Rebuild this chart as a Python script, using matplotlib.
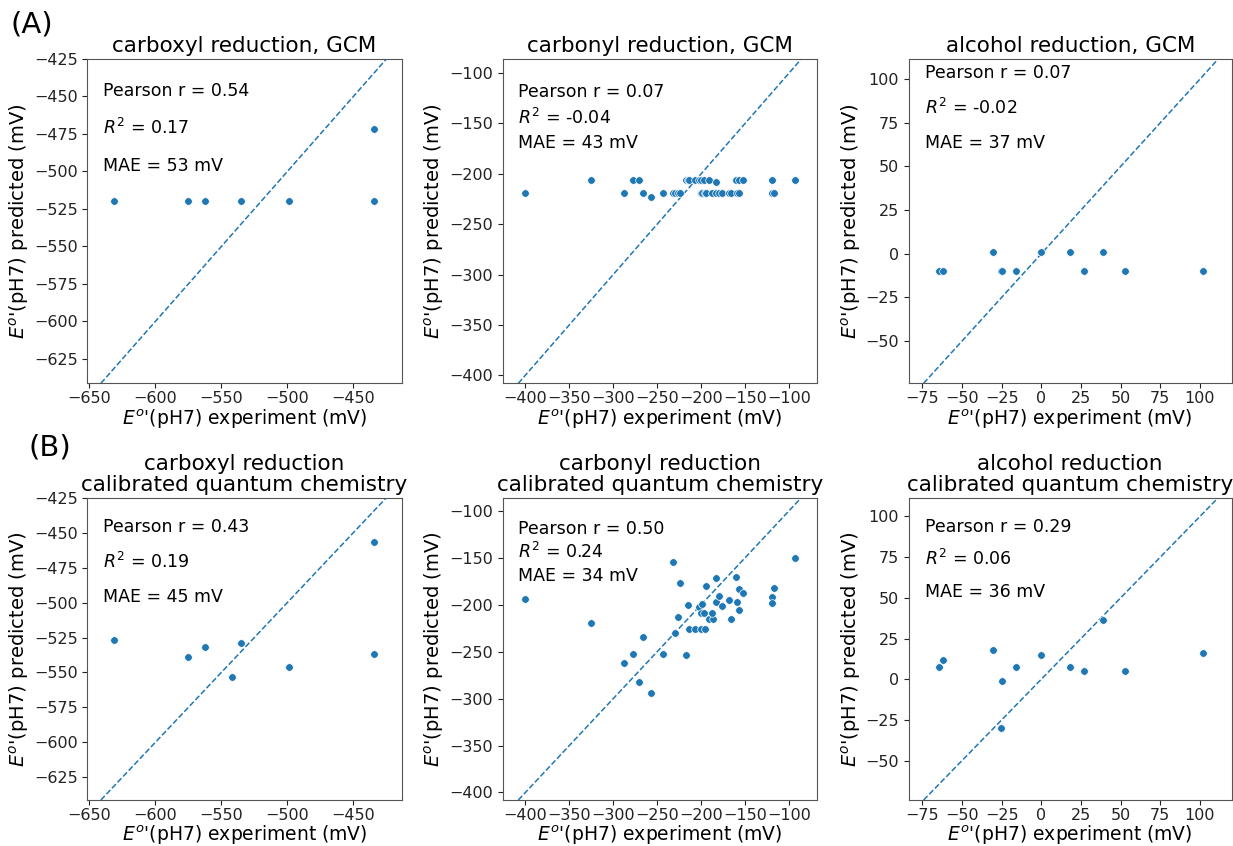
import matplotlib
matplotlib.use("Agg")
import matplotlib.pyplot as plt
from matplotlib.ticker import MultipleLocator

plt.rcParams['font.family'] = ['DejaVu Sans']

# ---------------- data ----------------
carboxyl_gcm_x = [-631, -575, -562, -535, -499, -434, -434]
carboxyl_gcm_y = [-520, -520, -520, -520, -520, -520, -472]
carboxyl_cal_x = [-631, -575, -562, -542, -535, -499, -434, -434]
carboxyl_cal_y = [-527, -539, -532, -553, -529, -546, -457, -537]

carbonyl_x = [-400, -325.7, -287.4, -277.9, -271.1, -265.8, -256.7, -243.8, -231.6, -230.1,
              -226.7, -224.1, -217.6, -215.3, -213.4, -206.6, -202.0, -200.2, -200.5, -199.0,
              -196.8, -195.2, -194.5, -190.7, -186.9, -187.6, -183.1, -183.1, -180.0, -176.6,
              -168.3, -165.7, -160.3, -159.6, -157.3, -156.5, -152.8, -119.8, -119.8, -116.7,
              -93.6]
carbonyl_gcm_y = [-219, -206, -219, -206, -206, -219, -223, -219, -219, -219,
                  -219, -219, -206, -206, -206, -206, -206, -219, -206, -219,
                  -206, -219, -219, -206, -219, -219, -208, -219, -219, -219,
                  -219, -219, -206, -219, -206, -219, -206, -206, -219, -219,
                  -206]
carbonyl_cal_y = [-194.3, -219.5, -261.7, -252.1, -281.9, -234.0, -293.6, -252.8, -154.3, -229.8,
                  -213.5, -176.6, -253.9, -200.0, -225.5, -225.5, -202.1, -225.5, -209.2, -199.0,
                  -209.2, -225.5, -180.5, -214.9, -215.6, -209.2, -171.6, -197.2, -190.8, -201.4,
                  -195.0, -215.6, -170.2, -197.2, -183.3, -205.7, -187.6, -191.5, -198.6, -182.6,
                  -150.4]

alcohol_x = [-64.8, -62.2, -30.3, -25.2, -25.0, -16.2, 0.0, 18.0, 26.7, 38.7, 52.9, 101.9]
alcohol_gcm_y = [-9.9, -9.9, 1.0, -9.9, -9.9, -9.9, 1.0, 1.0, -9.9, 1.0, -9.9, -9.9]
alcohol_cal_y = [7.4, 11.9, 17.8, -29.7, -1.0, 7.8, 15.1, 7.2, 5.1, 36.6, 5.1, 16.4]

pearson_gcm = ["0.54", "0.07", "0.07"]
r2_gcm = ["0.17", "-0.04", "-0.02"]
mae_gcm = ["53", "43", "37"]
pearson_cal = ["0.43", "0.50", "0.29"]
r2_cal = ["0.19", "0.24", "0.06"]
mae_cal = ["45", "34", "36"]

titles_gcm = ["carboxyl reduction, GCM", "carbonyl reduction, GCM", "alcohol reduction, GCM"]
titles_cal = ["carboxyl reduction\ncalibrated quantum chemistry",
              "carbonyl reduction\ncalibrated quantum chemistry",
              "alcohol reduction\ncalibrated quantum chemistry"]

# ---------------- layout ----------------
W, H = 1233, 846
fig = plt.figure(figsize=(W / 100, H / 100), dpi=100)

col_px = [(87.3, 314.4), (502.7, 314.6), (908.7, 323.0)]
row_px = [(59.0, 383.3), (497.7, 800.0)]

xlims = [(-651.5, -413.4), (-425.8, -67.8), (-83.6, 120.0)]
ylims = [(-641.2, -425.0), (-408.0, -86.0), (-74.2, 111.5)]
xsteps = [50, 50, 25]
ysteps = [25, 50, 25]

text_y_gcm = [(0.902, 0.786, 0.670), (0.897, 0.817, 0.742), (0.956, 0.848, 0.740)]
text_y_cal = [(0.904, 0.788, 0.673), (0.896, 0.822, 0.741), (0.904, 0.796, 0.687)]

xs_all = [[carboxyl_gcm_x, carbonyl_x, alcohol_x], [carboxyl_cal_x, carbonyl_x, alcohol_x]]
ys_all = [[carboxyl_gcm_y, carbonyl_gcm_y, alcohol_gcm_y], [carboxyl_cal_y, carbonyl_cal_y, alcohol_cal_y]]
titles_all = [titles_gcm, titles_cal]
stats_all = [(pearson_gcm, r2_gcm, mae_gcm), (pearson_cal, r2_cal, mae_cal)]
text_y_all = [text_y_gcm, text_y_cal]

C0 = '#1f77b4'
for r in range(2):
    top, bot = row_px[r]
    for c in range(3):
        left, width = col_px[c]
        ax = fig.add_axes([left / W, 1 - bot / H, width / W, (bot - top) / H])
        ax.scatter(xs_all[r][c], ys_all[r][c], s=30, color=C0, edgecolor='white',
                   linewidth=0.5, zorder=3)
        ax.axline((0, 0), slope=1, ls='--', lw=1.1, color=C0, zorder=2)
        ax.set_xlim(*xlims[c])
        ax.set_ylim(*ylims[c])
        ax.xaxis.set_major_locator(MultipleLocator(xsteps[c]))
        ax.yaxis.set_major_locator(MultipleLocator(ysteps[c]))
        ax.tick_params(labelsize=11.5, colors='#222222')
        ax.tick_params(axis='x', pad=2)
        for sp in ax.spines.values():
            sp.set_color('#555555')
        ax.set_title(titles_all[r][c], fontsize=15.5, pad=5, linespacing=1.05)
        ax.set_xlabel(r"$E^{o}$'(pH7) experiment (mV)", fontsize=13.5, labelpad=1)
        ax.set_ylabel(r"$E^{o}$'(pH7) predicted (mV)", fontsize=14, labelpad=2)
        p, r2, mae = stats_all[r]
        ty = text_y_all[r][c]
        ax.text(0.05, ty[0], f"Pearson r = {p[c]}", transform=ax.transAxes,
                fontsize=12.5, va='center', ha='left')
        ax.text(0.05, ty[1], f"$R^2$ = {r2[c]}", transform=ax.transAxes,
                fontsize=12.5, va='center', ha='left')
        ax.text(0.05, ty[2], f"MAE = {mae[c]} mV", transform=ax.transAxes,
                fontsize=12.5, va='center', ha='left')

fig.text(32 / W, 1 - 25 / H, "(A)", fontsize=21, ha='center', va='center')
fig.text(50 / W, 1 - 447 / H, "(B)", fontsize=21, ha='center', va='center')

fig.savefig("out.png", dpi=100)
